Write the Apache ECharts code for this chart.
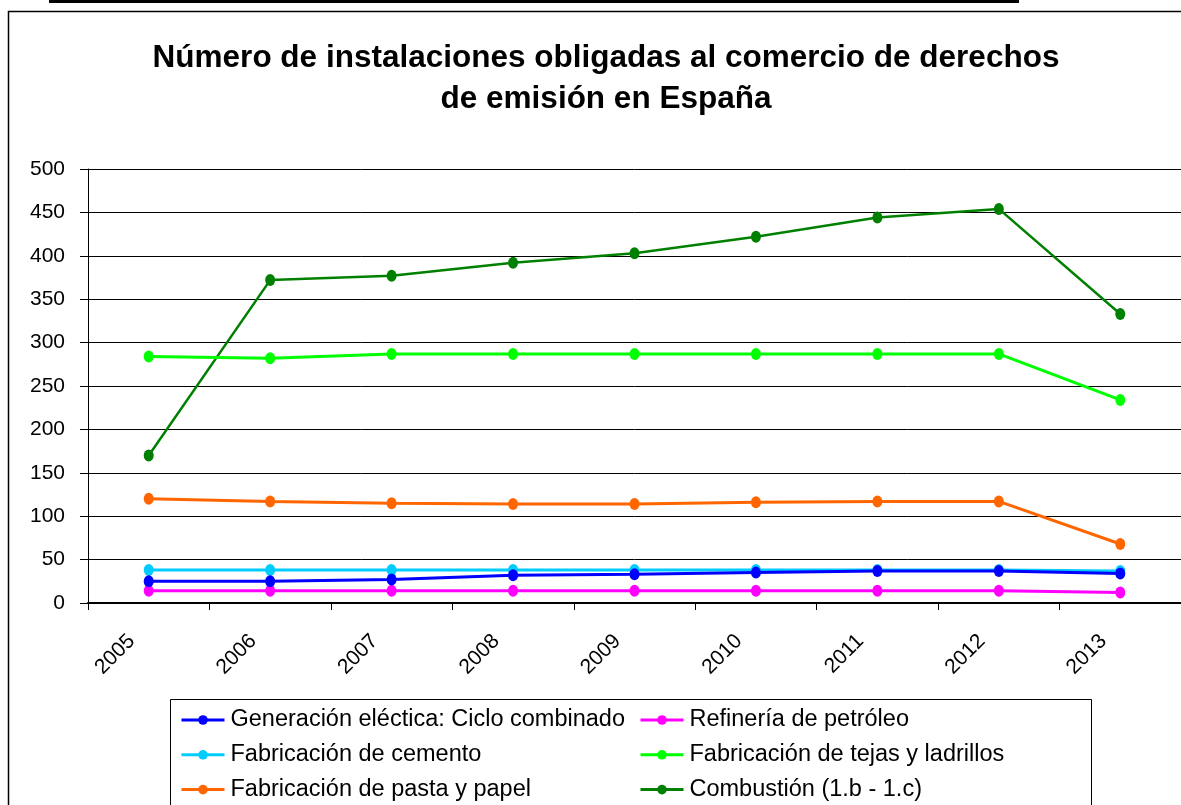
<!DOCTYPE html>
<html><head><meta charset="utf-8">
<script src="https://cdn.jsdelivr.net/npm/echarts@6/dist/echarts.min.js"></script>
<style>html,body{margin:0;padding:0;background:#fff}#c{width:1181px;height:805px}</style>
</head><body><div id="c"></div>
<script>
const years = ['2005','2006','2007','2008','2009','2010','2011','2012','2013'];
const genElec = [25,25,27,32,33,35,37,37,34];
const refineria = [14,14,14,14,14,14,14,14,12];
const cemento = [38,38,38,38,38,38,38,38,37];
const tejas = [284,282,287,287,287,287,287,287,234];
const pasta = [120,117,115,114,114,116,117,117,68];
const combustion = [170,372,377,392,403,422,444,454,333];
const yTicks = [0,50,100,150,200,250,300,350,400,450,500];

const names = ['Generación eléctica: Ciclo combinado','Refinería de petróleo','Fabricación de cemento','Fabricación de tejas y ladrillos','Fabricación de pasta y papel','Combustión (1.b - 1.c)'];
const colors = ['#0000FF','#FF00FF','#00CCFF','#00FF00','#FF6600','#008000'];
const datas = [genElec, refineria, cemento, tejas, pasta, combustion];
const font = 'Liberation Sans, Arial, sans-serif';

const chart = echarts.init(document.getElementById('c'));
const series = names.map((n,i)=>({
  name:n, type:'line', data:datas[i], symbol:'circle', symbolSize:[10,12],
  lineStyle:{color:colors[i], width: i===5?2.5:3}, itemStyle:{color:colors[i]},
  z: 10 - i, animation:false
}));
const legendText = {fontFamily:font, fontSize:23.5, color:'#000', lineHeight:24, padding:[0,0,0,1]};
const legendCommon = {orient:'vertical', top:708, height:100, padding:0, itemWidth:43, itemHeight:12, itemGap:10.8,
  textStyle:legendText, lineStyle:{width:3}};
chart.setOption({
  animation:false,
  title:{text:'Número de instalaciones obligadas al comercio de derechos\nde emisión en España', left:601, top:33, textAlign:'center',
    textStyle:{fontFamily:font, fontSize:31.5, fontWeight:'bold', color:'#000', lineHeight:41}},
  grid:{left:88, right:0, top:169, bottom:202},
  xAxis:{type:'category', data:years, boundaryGap:true,
    axisLine:{lineStyle:{color:'#000', width:2}},
    axisTick:{show:true, length:7, lineStyle:{color:'#000'}},
    axisLabel:{rotate:45, fontFamily:font, fontSize:21, color:'#000', margin:18, padding:[0,24,0,0]}},
  yAxis:{type:'value', min:0, max:500, interval:50,
    axisLine:{show:true, lineStyle:{color:'#000', width:1}},
    axisTick:{show:true, length:8, inside:false, lineStyle:{color:'#000'}},
    splitLine:{lineStyle:{color:'#000', width:1}},
    axisLabel:{fontFamily:font, fontSize:21, color:'#000', margin:23,
      formatter:v=>yTicks.includes(v)?String(v):''}},
  legend:[
    Object.assign({left:180, data:[names[0],names[2],names[4]]}, legendCommon),
    Object.assign({left:639, data:[names[1],names[3],names[5]]}, legendCommon)
  ],
  graphic:[
    {type:'rect', shape:{x:8.5, y:11.5, width:1200, height:820}, style:{fill:'none', stroke:'#000', lineWidth:1.5}, silent:true},
    {type:'rect', shape:{x:49, y:0, width:970, height:3}, style:{fill:'#000'}, silent:true},
    {type:'rect', shape:{x:170.5, y:699.5, width:921, height:120}, style:{fill:'#fff', stroke:'#000', lineWidth:1}, silent:true, z:-1}
  ],
  series: series
});
</script></body></html>
